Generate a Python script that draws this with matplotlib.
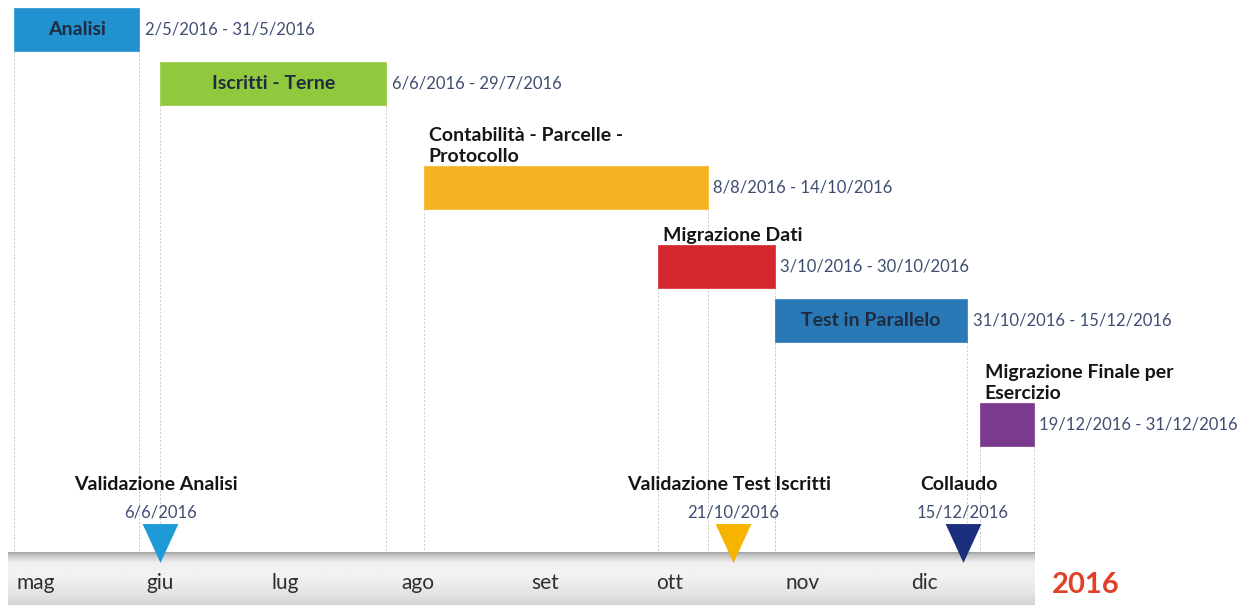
#Timeline of project phases and milestones (2016)

import datetime as dt
import numpy as np
import matplotlib
matplotlib.use("Agg")
import matplotlib.pyplot as plt
import matplotlib.dates as mdates

plt.rcParams['font.family'] = ['Lato', 'DejaVu Sans']

# phases
phase_names = ["Analisi", "Iscritti - Terne", "Contabilità - Parcelle -\nProtocollo",
               "Migrazione Dati", "Test in Parallelo", "Migrazione Finale per\nEsercizio"]
phase_start = ["2016-05-02", "2016-06-06", "2016-08-08", "2016-10-03", "2016-10-31", "2016-12-19"]
phase_end = ["2016-05-31", "2016-07-29", "2016-10-14", "2016-10-30", "2016-12-15", "2016-12-31"]
phase_labels = ["2/5/2016 - 31/5/2016", "6/6/2016 - 29/7/2016", "8/8/2016 - 14/10/2016",
                "3/10/2016 - 30/10/2016", "31/10/2016 - 15/12/2016", "19/12/2016 - 31/12/2016"]
label_inside = [True, True, False, False, True, False]
phase_colors = ["#2191cf", "#92c83e", "#f5b321", "#d4282e", "#2a79b7", "#7c3a8e"]

# milestones
ms_names = ["Validazione Analisi", "Validazione Test Iscritti", "Collaudo"]
ms_dates = ["2016-06-06", "2016-10-21", "2016-12-15"]
ms_labels = ["6/6/2016", "21/10/2016", "15/12/2016"]
ms_colors = ["#1e9bd7", "#f6b400", "#1b2f7e"]

months = ["mag", "giu", "lug", "ago", "set", "ott", "nov", "dic"]
month_start = ["2016-05-01", "2016-06-01", "2016-07-01", "2016-08-01",
               "2016-09-01", "2016-10-01", "2016-11-01", "2016-12-01"]
year_label = "2016"


def d(s):
    return mdates.date2num(dt.datetime.strptime(s, "%Y-%m-%d"))


W, H = 1250, 612
fig = plt.figure(figsize=(W / 100, H / 100), dpi=100)
ax = fig.add_axes([0, 0, 1, 1])
ax.set_axis_off()

px_per_day = 4.18
x_left = d("2016-05-02") - 14 / px_per_day
x_right = x_left + W / px_per_day

date_col = "#3f4d72"
text_col = "#1f2c40"
line_top = 552  # top of the timeline strip (pixel rows, y axis inverted)

# timeline strip with a soft gradient
t0 = d("2016-05-01") - 0.5
t1 = d("2017-01-01")
pos = np.linspace(0, 1, 100)
grad = np.interp(pos, [0, 0.05, 0.2, 0.45, 0.8, 1], [0.63, 0.76, 0.94, 0.95, 0.89, 0.83])
ax.imshow(grad.reshape(-1, 1), cmap="gray", vmin=0, vmax=1, aspect="auto",
          extent=[t0, t1, 605, line_top], origin="upper", zorder=1)

# phases: rows stacked from the top, extra room when the label is above the bar
bar_h = 43
top = 8
for i in range(len(phase_names)):
    nlines = 0 if label_inside[i] else phase_names[i].count("\n") + 1
    top = top + nlines * 25
    s = d(phase_start[i])
    e = d(phase_end[i]) + 1
    ax.barh(top + bar_h / 2, e - s, left=s, height=bar_h, color=phase_colors[i],
            edgecolor=phase_colors[i], linewidth=0.5, zorder=3)
    # dotted guides down to the timeline
    for xx in (s, e):
        ax.plot([xx, xx], [top + bar_h, line_top], color="#cacaca", lw=0.7,
                linestyle=(0, (2, 2)), zorder=0)
    if label_inside[i]:
        ax.text((s + e) / 2, top + bar_h / 2, phase_names[i], ha="center", va="center",
                fontsize=14, fontweight="bold", color=text_col, zorder=4)
    else:
        ax.text(s + 1.2, top - 1, phase_names[i], ha="left", va="bottom",
                fontsize=14, fontweight="bold", color="#151515", linespacing=1.32, zorder=4)
    ax.annotate(phase_labels[i], (e, top + bar_h / 2), xytext=(4, 0), textcoords="offset points",
                ha="left", va="center", fontsize=12, color=date_col, zorder=4)
    top = top + bar_h + 11

# milestones: tall downward triangles sitting on the strip
tri = [(-0.92, 1), (0.92, 1), (0, -1)]
for i in range(len(ms_names)):
    x = d(ms_dates[i])
    ax.plot([x], [543], marker=tri, markersize=28, color=ms_colors[i],
            markeredgewidth=0, zorder=5)
    ax.text(x, 513, ms_labels[i], ha="center", va="center", fontsize=12,
            color=date_col, zorder=4)
    ax.text(x - 1, 485, ms_names[i], ha="center", va="center", fontsize=14,
            fontweight="bold", color="#151515", zorder=4)

# month names on the strip
for m, ms in zip(months, month_start):
    ax.annotate(m, (d(ms), 583), xytext=(5, 0), textcoords="offset points",
                ha="left", va="center", fontsize=15, color="#2e2e2e", zorder=4)

ax.text(d("2016-12-31") + 13.5, 585, year_label, ha="center", va="center", fontsize=21,
        fontweight="bold", color="#e0402a", zorder=4)

ax.set_xlim(x_left, x_right)
ax.set_ylim(H, 0)

fig.savefig("out.png", dpi=100, facecolor="white")
